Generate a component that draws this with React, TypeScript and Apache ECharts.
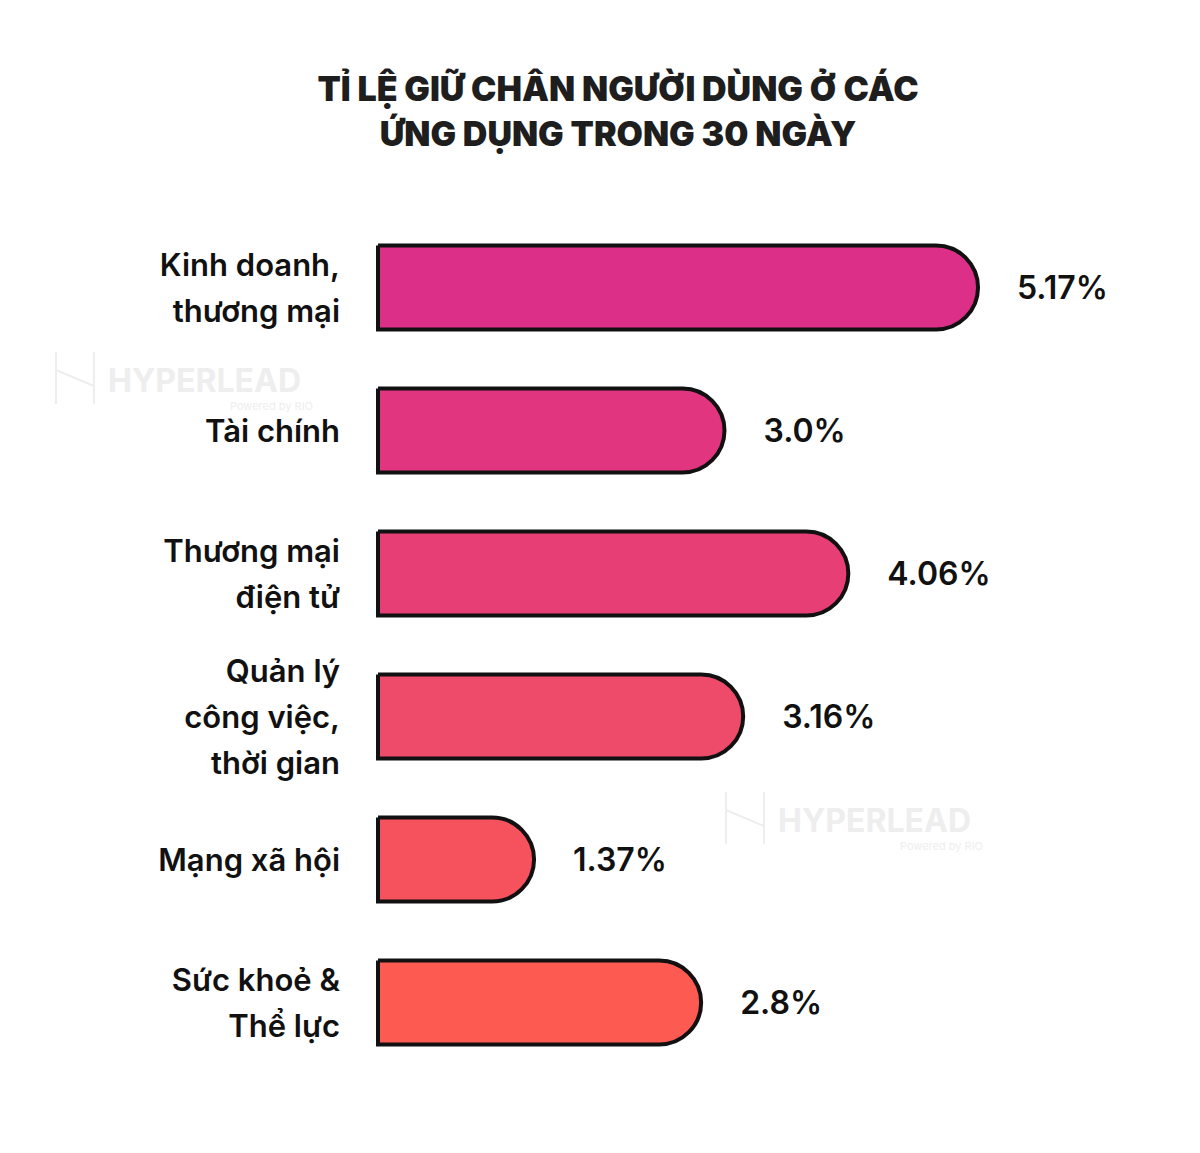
import React, { useEffect, useRef } from "react";
import * as echarts from "echarts";

const TITLE_LINES = ["TỈ LỆ GIỮ CHÂN NGƯỜI DÙNG Ở CÁC", "ỨNG DỤNG TRONG 30 NGÀY"];
const categories = [
  "Kinh doanh,\nthương mại",
  "Tài chính",
  "Thương mại\nđiện tử",
  "Quản lý\ncông việc,\nthời gian",
  "Mạng xã hội",
  "Sức khoẻ &\nThể lực",
];
const values = [5.17, 3.0, 4.06, 3.16, 1.37, 2.8];
const valueLabels = ["5.17%", "3.0%", "4.06%", "3.16%", "1.37%", "2.8%"];
const barColors = ["#DC2F88", "#E1357F", "#E73F75", "#EE4A69", "#F5525E", "#FD5A52"];

export default function App() {
  const ref = useRef<HTMLDivElement>(null);
  useEffect(() => {
    document.body.style.margin = "0";
    const chart = echarts.init(ref.current!, null, { renderer: "svg" });
    const font = "Inter, 'Noto Sans', sans-serif";
    const wm = "#EEEEEE";
    const watermark = (x: number, y: number) => [
      {
        type: "text",
        left: x,
        top: y,
        style: { text: "HYPERLEAD", fill: wm, font: `700 32px ${font}` },
        silent: true,
        z: 0,
      },
      {
        type: "text",
        left: x + 122,
        top: y + 36,
        style: { text: "Powered by RIO", fill: wm, font: `400 11px ${font}` },
        silent: true,
        z: 0,
      },
      {
        type: "polyline",
        shape: { points: [[x - 52, y - 12], [x - 52, y + 40]] },
        style: { stroke: wm, lineWidth: 2, fill: null },
        silent: true,
        z: 0,
      },
      {
        type: "polyline",
        shape: { points: [[x - 14, y - 12], [x - 14, y + 40]] },
        style: { stroke: wm, lineWidth: 2, fill: null },
        silent: true,
        z: 0,
      },
      {
        type: "polyline",
        shape: { points: [[x - 52, y + 6], [x - 14, y + 22]] },
        style: { stroke: wm, lineWidth: 2, fill: null },
        silent: true,
        z: 0,
      },
    ];
    chart.setOption({
      animation: false,
      backgroundColor: "#ffffff",
      graphic: [
        ...watermark(108, 364),
        ...watermark(778, 804),
        {
          type: "text",
          x: 618,
          y: 111,
          style: {
            text: TITLE_LINES.join("\n"),
            fill: "#1E1E1E",
            font: `900 34px ${font}`,
            textAlign: "center",
            textVerticalAlign: "middle",
            lineHeight: 45,
          },
          z: 10,
        },
      ],
      grid: { left: 376, right: 123, top: 216, bottom: 79, containLabel: false },
      xAxis: {
        type: "value",
        min: 0,
        max: 6,
        show: false,
      },
      yAxis: {
        type: "category",
        data: categories,
        inverse: true,
        axisLine: { show: false },
        axisTick: { show: false },
        splitLine: { show: false },
        axisLabel: {
          margin: 36,
          fontSize: 31,
          fontWeight: 600,
          fontFamily: font,
          color: "#111111",
          lineHeight: 46,
          align: "right",
        },
      },
      series: [
        {
          type: "bar",
          data: values.map((v, i) => ({ value: v, itemStyle: { color: barColors[i] } })),
          barWidth: 88,
          itemStyle: {
            borderColor: "#111111",
            borderWidth: 4,
            borderRadius: [0, 44, 44, 0],
          },
          label: {
            show: true,
            position: "right",
            distance: 37,
            fontSize: 32,
            fontWeight: 600,
            fontFamily: font,
            color: "#111111",
            formatter: (p: any) => valueLabels[p.dataIndex],
          },
          z: 5,
        },
      ],
    });
    return () => chart.dispose();
  }, []);
  return <div ref={ref} style={{ width: 1200, height: 1153 }} />;
}
